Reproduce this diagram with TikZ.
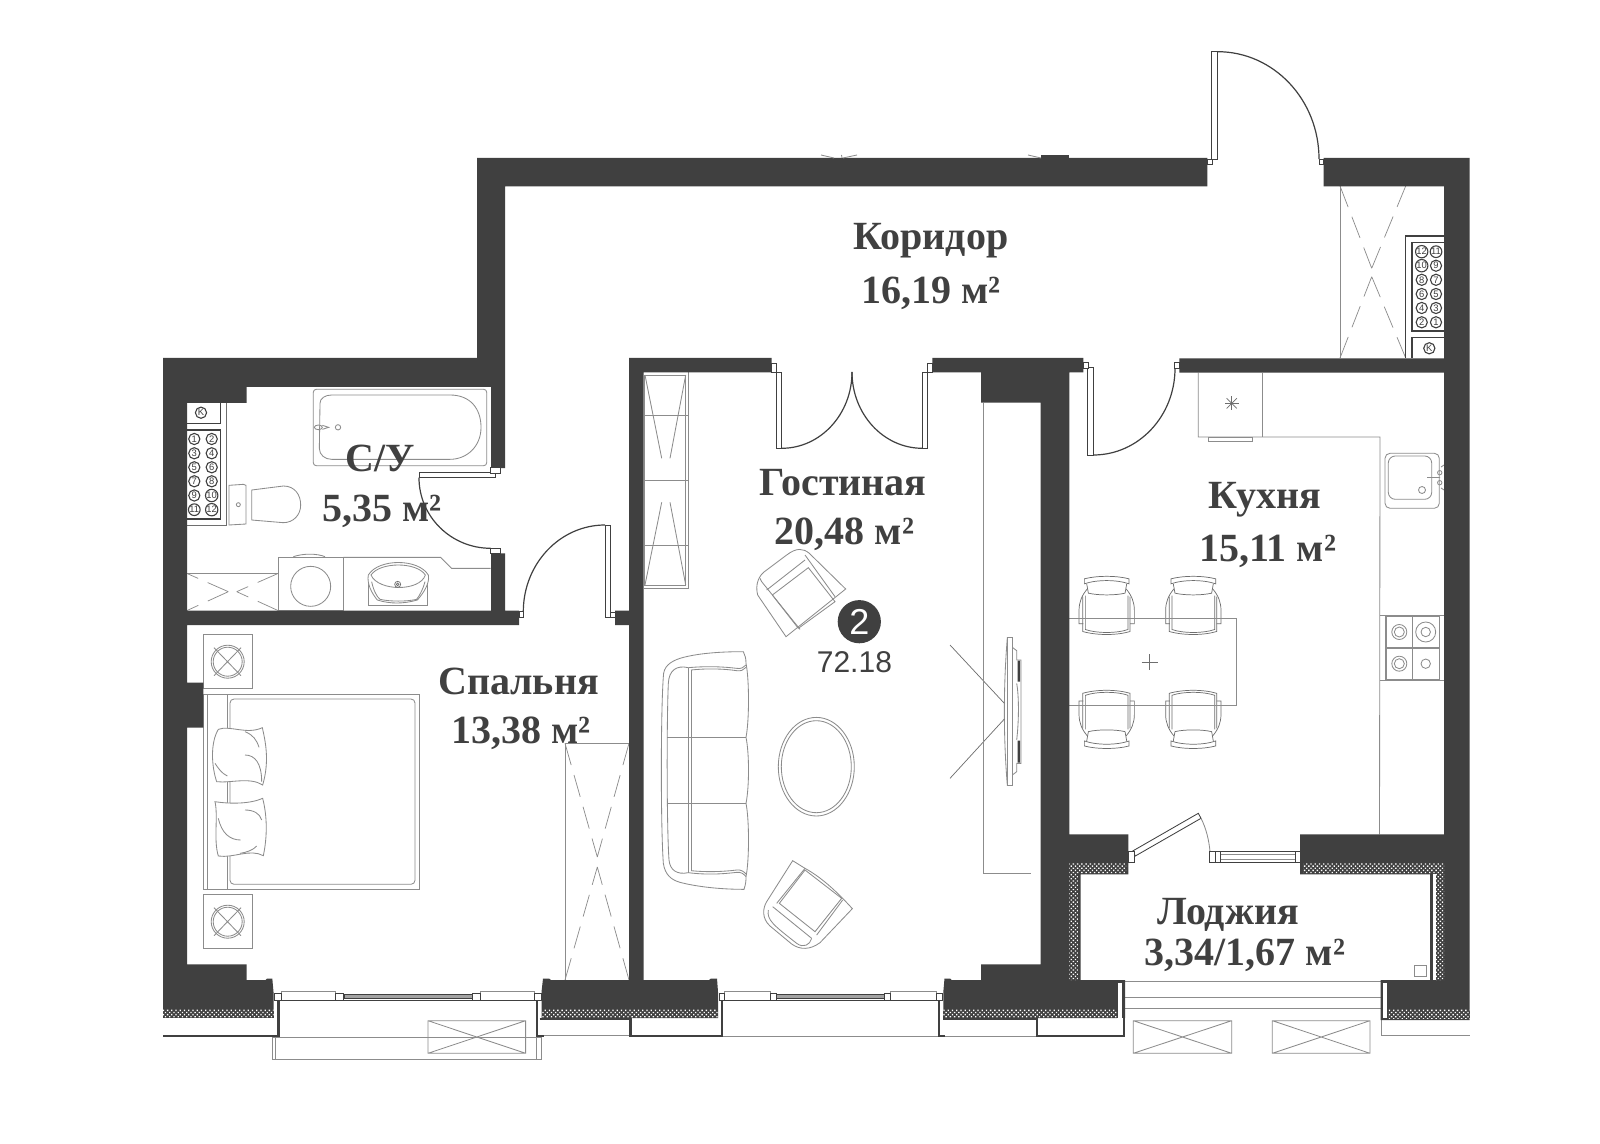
\documentclass[tikz,border=0pt]{standalone}
\usepackage{fontspec}
\setmainfont{Liberation Serif}
\newfontfamily\sansf{Liberation Sans}
\usetikzlibrary{calc,patterns.meta}
\definecolor{dk}{HTML}{404040}
\definecolor{ln}{HTML}{8C8C8C}
\definecolor{lnd}{HTML}{6E6E6E}
\tikzset{
  x=.5pt,y=-.5pt,
  wall/.style={fill=dk,draw=none},
  hatch/.style={fill=dk,draw=none,postaction={pattern={Dots[distance=1.5pt,radius=.47pt,angle=45]},pattern color=white}},
  fine/.style={draw=ln,line width=.42pt},
  finer/.style={draw=lnd,line width=.36pt},
  dashx/.style={draw=ln,line width=.36pt,dash pattern=on 11.3pt off 5.2pt},
  leaf/.style={draw=dk,line width=.42pt,fill=white},
  swing/.style={draw=dk,line width=.6pt},
  thick line/.style={draw=dk,line width=1.1pt},
  lbl/.style={anchor=base,text=dk,font=\fontsize{20}{22}\selectfont\bfseries},
  meter/.style={circle,draw=dk,line width=.55pt,inner sep=0pt,minimum size=5.6pt,text=dk,font=\fontsize{4.7}{4.7}\selectfont\sansf},
  z3/.style={x=.1666667pt,y=-.1666667pt},
  dchair/.pic={
    \begin{scope}[x=.1666667pt,y=-.1666667pt]
      \draw[finer] (-67,-80) .. controls (-30,-90) and (30,-90) .. (67,-80) -- (67,-65) .. controls (30,-78) and (-30,-78) .. (-67,-65) -- cycle;
      \draw[finer] (-60,-65) -- (-55,-37) .. controls (-25,-30) and (25,-30) .. (55,-37) -- (60,-65);
      \draw[finer] (-72,-27) -- (-72,78) .. controls (-30,90) and (30,90) .. (70,78) -- (70,-27);
      \draw[finer] (-64,-30) -- (-64,72) .. controls (-30,84) and (30,84) .. (64,72) -- (64,-30);
      \draw[finer] (-58,-50) .. controls (-75,-30) and (-83,-10) .. (-83,15) -- (-83,55) -- (-70,55);
      \draw[finer] (58,-50) .. controls (75,-30) and (83,-10) .. (83,15) -- (83,55) -- (70,55);
    \end{scope}
  }
}
\newcommand{\swingarc}[4][swing]{\draw[#1] (#2) .. controls ($(#2)!.5523!(#3)$) and ($(#4)!.5523!(#3)$) .. (#4);}
\newcommand{\xbox}[4]{\draw[fine] (#1,#2) rectangle (#3,#4) (#1,#2) -- (#3,#4) (#1,#4) -- (#3,#2);}
\newcommand{\bwin}[8]{%
  \draw[fine,fill=white] (#2,991) rectangle (#3,1000);
  \draw[fine,fill=white] (#6,991) rectangle (#7,1000);
  \draw[fill=ln!80,draw=dk,line width=.3pt] (#4,994.4) rectangle (#5,998.6);
  \draw[draw=dk,line width=.5pt] (#1,1000) -- (#8,1000);
  \draw[leaf] (#1,993.4) rectangle (#2,1000.8);
  \draw[leaf] (#3,993.4) rectangle (#4,1000.8);
  \draw[leaf] (#5,993.4) rectangle (#6,1000.8);
  \draw[leaf] (#7,993.4) rectangle (#8,1000.8);}
\begin{document}
\begin{tikzpicture}
\fill[white] (0,0) rectangle (1600,1144);
\useasboundingbox (0,0) rectangle (1600,1144);

% ---------- thin furniture behind walls ----------
% corridor wardrobe
\draw[fine] (1340,186) -- (1340,358);
\draw[dashx] (1340,186) -- (1371.7,268.3) (1405.7,186) -- (1371.7,268.3)
             (1340,358) -- (1371.7,276.7) (1405.7,358) -- (1371.7,276.7);
% bedroom wardrobe
\draw[fine] (629,743.3) -- (565,743.3) -- (565,980);
\draw[dashx] (565,743.3) -- (597.3,857) (629,743.3) -- (597.3,857)
             (565,980) -- (597.3,867) (629,980) -- (597.3,867);
% shaft panels
\draw[draw=dk,line width=.6pt] (1444,236) -- (1405.7,236) -- (1405.7,358);
\draw[draw=dk,line width=.6pt] (1444,242.7) -- (1412,242.7) -- (1412,331) -- (1444,331);
\draw[draw=dk,line width=.6pt] (1444,337.7) -- (1412,337.7) -- (1412,358);
\draw[draw=lnd,line width=.5pt] (187,525) -- (226.7,525) -- (226.7,403);
\draw[draw=dk,line width=.6pt] (187,423.3) -- (220.7,423.3) -- (220.7,403);
\draw[draw=dk,line width=.6pt] (187,430) -- (220.7,430) -- (220.7,519) -- (187,519);
\foreach \n/\px/\py in {12/1421.7/251.7,11/1436/251.7,10/1421.7/265.7,9/1436/265.7,8/1421.7/279.8,7/1436/279.8,6/1421.7/294,5/1436/294,4/1421.7/308,3/1436/308,2/1421.7/322.3,1/1436/322.3}
  \node[meter] (ma\n) at (\px,\py) {\n};
\node[meter] (mak) at (1429.3,348.3) {K};
\foreach \n/\px/\py in {1/194.3/439,2/211.7/439,3/194.3/453.3,4/211.7/453.3,5/194.3/467.3,6/211.7/467.3,7/194.3/481.3,8/211.7/481.3,9/194.3/495.5,10/211.7/495.5,11/194.3/509.7,12/211.7/509.7}
  \node[meter] (mb\n) at (\px,\py) {\n};
\node[meter] (mbk) at (201,412.7) {K};

% ---------- bathroom ----------
\draw[fine,rounded corners=1.5pt] (313.3,389.3) rectangle (486.7,465.7);
\begin{scope}[shift={(150,340)},z3]
  \draw[fine] (510,190) .. controls (510,175) and (525,165) .. (545,165) -- (900,165) .. controls (960,165) and (993,205) .. (993,262) .. controls (993,320) and (950,358) .. (900,358) -- (545,358) .. controls (525,358) and (508,345) .. (508,325) -- cycle;
  \draw[fine] (505,262) ellipse [x radius=12,y radius=7];
  \draw[fine] (517,256) -- (536,262) -- (517,268);
  \draw[fine] (564,262) circle [radius=8];
  % toilet
  \draw[fine] (237,436) -- (280,433) -- (288,436) -- (288,552) -- (237,555) -- cycle;
  \draw[fine] (305,450) -- (400,438) .. controls (435,438) and (452,465) .. (452,495) .. controls (452,525) and (430,548) .. (400,548) -- (305,540) -- cycle;
  \draw[fine] (265,494) circle [radius=6];
  % counter
  \draw[fine] (385,652) rectangle (580,812);
  \draw[fine] (430,650) .. controls (460,640) and (500,640) .. (525,650);
  \draw[fine] (482,739) circle [radius=60];
  \draw[fine] (580,652) -- (872,652) -- (905,685) -- (1022,685);
  \draw[fine] (110,700) -- (385,700);
  \draw[dashx] (235,755) -- (110,700) (235,755) -- (110,812) (385,700) -- (260,755) (385,812) -- (260,755);
\end{scope}
\begin{scope}[shift={(360,550)},z3]
  \draw[fine] (25,80) rectangle (203,165);
  \draw[fine,fill=white] (25,75) .. controls (55,25) and (175,25) .. (205,75) .. controls (210,100) and (190,130) .. (172,150) .. controls (130,162) and (90,162) .. (52,150) .. controls (35,130) and (20,100) .. (25,75) -- cycle;
  \draw[fine] (33,75) .. controls (60,35) and (170,35) .. (196,75) .. controls (180,125) and (55,125) .. (33,75) -- cycle;
  \draw[fine] (35,95) .. controls (40,120) and (50,140) .. (60,148) .. controls (90,155) and (140,155) .. (170,148) .. controls (180,135) and (190,115) .. (195,95);
  \draw[finer] (113,103) circle [radius=9];
  \draw[finer] (113,103) circle [radius=4];
\end{scope}

% ---------- bedroom ----------
\draw[fine] (203.3,694.3) rectangle (419.3,889);
\draw[fine] (207.7,694.3) -- (207.7,889) (227.3,694.3) -- (227.3,889);
\draw[fine,rounded corners=2pt] (230,699) rectangle (415,884.3);
\draw[fine] (203.3,634.3) rectangle (252,688.3);
\draw[fine] (203.3,894.3) rectangle (252,948.3);
\foreach \cy in {661.7,921.7}{
  \draw[fine] (227.7,\cy) circle [radius=16.5];
  \draw[fine] (227.7,\cy) circle [radius=14.5];
  \draw[fine] (214,\cy-14) -- (241,\cy+14) (214,\cy+14) -- (241,\cy-14);
}
\begin{scope}[shift={(150,600)},z3]
  \draw[fine,fill=white] (205,388) .. controls (240,375) and (290,405) .. (337,383) .. controls (345,420) and (360,480) .. (338,555) .. controls (300,530) and (240,550) .. (200,545) .. controls (185,500) and (180,430) .. (205,388) -- cycle;
  \draw[fine] (285,395) .. controls (310,405) and (320,420) .. (327,442);
  \draw[fine] (285,465) .. controls (315,465) and (335,490) .. (335,545);
  \draw[fine] (195,490) .. controls (205,505) and (215,520) .. (232,528);
  \draw[fine,fill=white] (195,605) .. controls (240,612) and (300,612) .. (338,595) .. controls (352,650) and (352,710) .. (340,767) .. controls (300,745) and (250,775) .. (205,768) .. controls (190,720) and (205,650) .. (195,605) -- cycle;
  \draw[fine] (285,630) .. controls (310,630) and (330,640) .. (335,660);
  \draw[fine] (205,655) .. controls (215,700) and (240,720) .. (272,720);
  \draw[fine] (270,760) .. controls (290,757) and (310,750) .. (320,738);
\end{scope}

% ---------- living room ----------
\draw[fine] (644,375) rectangle (685.7,585.7);
\draw[fine] (688.3,372.5) -- (688.3,588.3) -- (644,588.3);
\draw[fine] (644,415.3) -- (688.3,415.3) (644,480.3) -- (688.3,480.3) (644,545.3) -- (688.3,545.3);
\draw[fine] (645,375) -- (661.7,458.3) (685.7,375) -- (670,458.3) (645,585) -- (661.7,502.3) (685.7,585) -- (670,502.3);
% armchair upper
\begin{scope}[shift={(620,340)},z3]
  \draw[fine] (498,890) -- (413,765) .. controls (405,735) and (415,705) .. (440,690) -- (500,645) .. controls (530,622) and (550,625) .. (568,640) -- (677,747) -- cycle;
  \draw[fine] (420,715) -- (425,725) -- (540,868);
  \draw[fine] (555,645) -- (645,770);
  \draw[fine] (440,750) -- (555,660);
  \draw[fine] (457,765) -- (565,683) -- (645,785) -- (535,865);
  \draw[fine] (457,765) -- (535,865);
\end{scope}
\begin{scope}[shift={(620,620)},z3]
  % armchair lower
  \draw[fine] (518,722) -- (555,745) .. controls (610,775) and (660,825) .. (697,866) -- (600,968) .. controls (570,990) and (540,990) .. (515,972) -- (450,918) .. controls (425,895) and (428,865) .. (440,845) -- cycle;
  \draw[fine] (478,850) -- (555,750) -- (665,835) -- (585,935) -- cycle;
  \draw[fine] (458,860) -- (575,955);
  \draw[fine] (445,870) .. controls (440,900) and (460,915) .. (530,970) .. controls (550,985) and (570,975) .. (575,955);
  \draw[fine] (470,850) -- (555,745) (590,945) -- (668,840);
  % sofa
  \draw[fine] (370,95) .. controls (300,95) and (230,100) .. (180,115) .. controls (150,125) and (130,140) .. (130,170) .. controls (122,280) and (122,620) .. (130,730) .. controls (135,765) and (155,780) .. (180,787) .. controls (230,800) and (300,808) .. (372,808) .. controls (378,790) and (378,780) .. (378,770) .. controls (388,720) and (388,600) .. (378,550) .. controls (388,500) and (388,400) .. (378,352) .. controls (388,300) and (388,180) .. (378,130) .. controls (378,115) and (375,105) .. (370,95) -- cycle;
  \draw[fine] (205,143) .. controls (170,135) and (147,150) .. (145,190) .. controls (140,300) and (140,620) .. (147,720) .. controls (150,750) and (170,765) .. (205,758);
  \draw[fine] (205,143) -- (205,758) (213,150) -- (213,752);
  \draw[fine] (205,143) .. controls (260,138) and (310,140) .. (350,145) .. controls (362,147) and (372,143) .. (378,135);
  \draw[fine] (213,150) .. controls (260,145) and (310,146) .. (350,152) .. controls (362,154) and (372,150) .. (378,142);
  \draw[fine] (205,758) .. controls (260,765) and (310,762) .. (350,757) .. controls (362,755) and (372,762) .. (378,770);
  \draw[fine] (213,752) .. controls (260,757) and (310,755) .. (350,750) .. controls (362,748) and (372,755) .. (378,762);
  \draw[fine] (142,353) -- (378,353) (142,549) -- (378,549);
  % TV
  \draw[fine] (1162,52) -- (1177,52) -- (1177,497) -- (1162,497) -- cycle;
  \draw[fine] (1162,52) .. controls (1150,200) and (1150,350) .. (1162,497);
  \draw[fine] (1177,82) -- (1190,92) -- (1190,120) -- (1203,120) -- (1203,430) -- (1190,430) -- (1190,455) -- (1177,465);
  \draw[fine] (1190,190) .. controls (1197,230) and (1197,300) .. (1190,360);
  \fill[dk] (1193,122) rectangle (1200,185) (1193,362) rectangle (1200,428);
  \draw[finer] (990,75) -- (1153,250) (990,475) -- (1153,297);
\end{scope}
\draw[fine] (816.3,766.7) ellipse [x radius=38,y radius=49.3];
\draw[fine] (816.3,766.7) ellipse [x radius=35,y radius=46];
\draw[fine] (983.3,402.7) -- (983.3,873.3) -- (1030.7,873.3);

% ---------- kitchen ----------
\draw[fine] (1198.3,372.7) -- (1198.3,437) -- (1380,437) -- (1379.5,834.3);
\draw[fine] (1262.7,372.7) -- (1262.7,437);
\draw[fine] (1208.3,437) rectangle (1252.7,441);
\foreach \a in {0,45,...,135}
  \draw[finer] ($(1231.7,403.3)+(\a:3.6pt)$) -- ($(1231.7,403.3)+(\a+180:3.6pt)$);
\draw[fine,rounded corners=2.5pt] (1385,453.3) rectangle (1439.3,508.3);
\draw[fine,rounded corners=3.5pt] (1388.3,456) rectangle (1431.7,499.3);
\draw[fine] (1422,490) circle [radius=3.5];
\draw[fine] (1439.7,472.7) circle [radius=2.2] (1439.7,482.7) circle [radius=2.2];
\draw[fine] (1427,477.5) -- (1440,477.5) (1441,467) -- (1444,465) (1441,488) -- (1444,490);
\draw[fine] (1380,615.3) -- (1444,615.3) (1380,680.7) -- (1444,680.7);
\draw[draw=ln,line width=.7pt] (1386,616) rectangle (1439.3,680) (1412.3,616) -- (1412.3,680) (1386,648) -- (1439.3,648);
\foreach \px/\py/\ra/\rb in {1399.3/632/7.5/5,1425.7/632/10/4.7,1399.3/663.7/7.5/5}{
  \draw[fine] (\px,\py) circle [radius=\ra];
  \draw[fine] (\px,\py) circle [radius=\rb];
}
\draw[fine] (1425.7,663.7) circle [radius=4.7];
\pic at (1106.7,605.5) {dchair};
\pic at (1193.3,605.5) {dchair};
\pic[yscale=-1] at (1106.7,719.3) {dchair};
\pic[yscale=-1] at (1193.3,719.3) {dchair};
\draw[fine] (1069.3,618.7) -- (1236.3,618.7) -- (1236.3,705.3) -- (1069.3,705.3);
\draw[finer] (1141.7,662.3) -- (1157.7,662.3) (1149.7,654.3) -- (1149.7,670.3);

% ---------- outside: balconies and planters ----------
\draw[fine] (272.6,1037.3) -- (272.6,1059.3) -- (541.5,1059.3) -- (541.5,1037.3);
\draw[fine] (275.7,1037.3) -- (275.7,1059.3) (536,1037.3) -- (536,1059.3);
\draw[fine] (272.6,1037.3) -- (541.5,1037.3);
\draw[fine] (543,1035.5) -- (630,1035.5) (722,1036.7) -- (939,1036.7) (944,1036.2) -- (1036,1036.2);
\xbox{428}{1020.7}{525.6}{1053.3}
\xbox{1133.3}{1020.7}{1231.7}{1053.3}
\xbox{1272.3}{1020.7}{1370}{1053.3}
\draw[fine] (1125,981.3) -- (1381,981.3) (1125,997.3) -- (1381,997.3) (1125,1008.3) -- (1381,1008.3);
\draw[fine] (1381.3,1020) -- (1381.3,1035.7) -- (1470,1035.7);
\draw[fine,line width=.5pt] (1414.3,965.3) rectangle (1426,976.7);
% thick outlines below the windows
\draw[thick line] (163,1036) -- (278.5,1036) -- (278.5,1000);
\draw[thick line] (536.7,1000) -- (536.7,1036) -- (543.5,1036);
\draw[thick line] (539.5,1019.3) -- (630.4,1019.3) -- (630.4,1036) -- (722.3,1036) -- (722.3,1000);
\draw[thick line] (939,1000) -- (939,1036) -- (944.5,1036);
\draw[thick line] (943.3,1019.3) -- (1036.7,1019.3) -- (1036.7,1036) -- (1124,1036) -- (1124,1000);

% ---------- walls ----------
\fill[wall] (163,358) -- (477,358) -- (477,158) -- (1207.3,158) -- (1207.3,186.3) -- (505,186.3) -- (505,468) -- (491,468) -- (491,387) -- (246.7,387) -- (246.7,403) -- (187,403) -- (187,610.7) -- (491,610.7) -- (491,553.3) -- (505,553.3) -- (505,610.7) -- (519,610.7) -- (519,625) -- (187,625) -- (187,682.7) -- (203.3,682.7) -- (203.3,727.7) -- (187,727.7) -- (187,964.3) -- (246.7,964.3) -- (246.7,980) -- (265.7,980) -- (267,978.5) -- (272.3,978.5) -- (273.5,992) -- (273.5,1017.7) -- (163,1017.7) -- cycle;
\fill[wall] (1323.7,158) -- (1469.5,158) -- (1469.5,1020) -- (1380.7,1020) -- (1380.7,980) -- (1430,980) -- (1430,874.3) -- (1300,874.3) -- (1300,834.3) -- (1444,834.3) -- (1444,372.7) -- (1179.3,372.7) -- (1179.3,358.3) -- (1444,358.3) -- (1444,186.3) -- (1323.7,186.3) -- cycle;
\fill[wall] (629,358) -- (771.7,358) -- (771.7,372.5) -- (643.7,372.5) -- (643.7,980) -- (709,980) -- (711,978.5) -- (717,978.5) -- (718,992) -- (718,1018) -- (541.5,1018) -- (541.5,992) -- (543,978.5) -- (549,978.5) -- (551,980) -- (629,980) -- (629,625) -- (615,625) -- (615,610.7) -- (629,610.7) -- cycle;
\fill[wall] (932.3,358) -- (1083.3,358) -- (1083.3,372.5) -- (1069.3,372.5) -- (1069.3,834.3) -- (1128.3,834.3) -- (1128.3,874.3) -- (1080.7,874.3) -- (1080.7,980) -- (1125,980) -- (1125,1018) -- (943.3,1018) -- (943.3,992) -- (944.5,978.5) -- (950,978.5) -- (951.5,980) -- (981,980) -- (981,964.3) -- (1040.7,964.3) -- (1040.7,402.7) -- (981,402.7) -- (981,372.5) -- (932.3,372.5) -- cycle;
\fill[dk] (1041,155) rectangle (1069,158);
\draw[fine] (821,155) -- (834,158) (843,158) -- (857,155) (841.5,155) -- (842,158) (1028,155) -- (1041,158);

% hatching
\fill[hatch] (163,1009.5) rectangle (273.5,1017.5);
\fill[hatch] (541.5,1009.5) rectangle (718,1017.5);
\fill[hatch] (943.3,1009.5) rectangle (1117,1017.5);
\fill[hatch] (1388,1009.5) rectangle (1469.5,1018);
\fill[hatch] (1069.3,863.3) -- (1126,863.3) -- (1126,873.3) -- (1078.3,873.3) -- (1078.3,980) -- (1069.3,980) -- cycle;
\fill[hatch] (1303,863.3) -- (1444,863.3) -- (1444,980) -- (1436,980) -- (1436,873.3) -- (1303,873.3) -- cycle;
\fill[white] (1432.7,874.3) rectangle (1436,980);
\fill[white] (1118.3,982.7) rectangle (1121.7,1018);
\fill[white] (1382.7,982.7) rectangle (1387.3,1018);
\fill[white] (1117,1018) rectangle (1122.8,1035);

% ---------- doors and windows ----------
% entry
\draw[leaf] (1211.7,51.7) rectangle (1217.7,159);
\draw[leaf] (1207.3,159) rectangle (1212,164);
\draw[leaf] (1319,159) rectangle (1323.7,164);
\swingarc{1217.7,51.7}{1319,51.7}{1319,159}
% living
\draw[leaf] (776,372.3) rectangle (781.7,448.3);
\draw[leaf] (771.7,363.3) rectangle (776.7,372.3);
\draw[leaf] (922.3,372.3) rectangle (927.7,448.3);
\draw[leaf] (927.7,363.3) rectangle (932.3,372.3);
\swingarc{781.7,448.3}{852,448.3}{852,372}
\swingarc{852,372}{852,448.3}{922.3,448.3}
% kitchen
\draw[leaf] (1087.7,367.7) rectangle (1093.3,455);
\draw[leaf] (1083.3,362.7) rectangle (1088.3,368);
\draw[leaf] (1174.3,362.7) rectangle (1179.3,368.3);
\swingarc{1093.3,455}{1175,455}{1175,368.3}
% bedroom
\draw[leaf] (605,525) rectangle (610.7,617);
\draw[leaf] (610.7,612) rectangle (615,617);
\draw[leaf] (519,611.7) rectangle (523.3,617.3);
\swingarc{605,525}{523.3,525}{523.3,611.7}
% bathroom
\draw[leaf] (419,472.7) rectangle (495,477.7);
\draw[leaf] (490.7,467.7) rectangle (500.7,473);
\draw[leaf] (490.7,548.3) rectangle (500.7,553.3);
\swingarc{419,477.7}{419,548.3}{490.7,548.3}
% loggia door
\draw[leaf] (1132.7,851) -- (1198.3,813.3) -- (1201,818.3) -- (1135.3,856) -- cycle;
\draw[leaf] (1128.3,851.7) rectangle (1134,862.3);
\draw[fine] (1201,818.3) .. controls (1206,828) and (1209,840) .. (1210,851.7);
\draw[leaf] (1209,851.7) rectangle (1215,862.3);
\draw[leaf] (1215,851.7) rectangle (1220.7,862.3);
\draw[leaf] (1220.7,851.7) rectangle (1295.7,862.3);
\draw[fine] (1220.7,854.7) -- (1295.7,854.7) (1220.7,859) -- (1295.7,859);
\draw[leaf] (1295.7,851.7) rectangle (1300,862.3);
% bottom windows
\bwin{274.6}{281.3}{335.8}{343.8}{472.3}{480.2}{534.3}{541.5}
\bwin{719}{724.3}{770}{776}{884.3}{890}{936.7}{942.3}

% ---------- labels ----------
\node[lbl] (l1a) at (931,250) {Коридор};
\node[lbl] (l1b) at (931,303.5) {16,19 м²};
\node[lbl] (l2a) at (380,471) {С/У};
\node[lbl] (l2b) at (382,521) {5,35 м²};
\node[lbl] (l3a) at (843,495) {Гостиная};
\node[lbl] (l3b) at (844.5,544) {20,48 м²};
\node[lbl] (l4a) at (1265,508.5) {Кухня};
\node[lbl] (l4b) at (1267.5,561.5) {15,11 м²};
\node[lbl] (l5a) at (518.5,694) {Спальня};
\node[lbl] (l5b) at (521,743.3) {13,38 м²};
\node[lbl] (l6a) at (1228,924.3) {Лоджия};
\node[lbl] (l6b) at (1245,965) {3,34/1,67 м²};
\node[circle,fill=dk,inner sep=0pt,minimum size=21.6pt,text=white,font=\fontsize{18}{18}\selectfont\sansf] (badge) at (859.3,621.7) {2};
\node[anchor=base,text=dk,font=\fontsize{15}{15}\selectfont\sansf] (area) at (854.4,672.7) {72.18};
\end{tikzpicture}
\end{document}
